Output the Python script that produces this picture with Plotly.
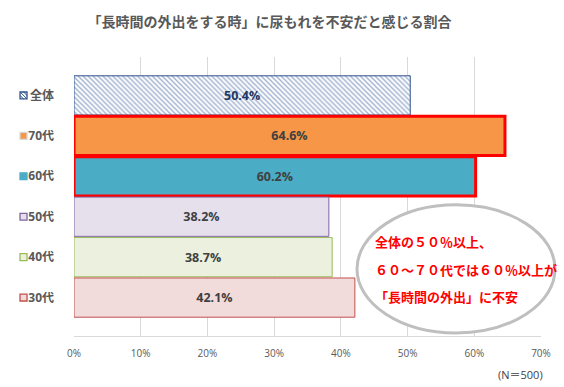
import plotly.graph_objects as go

categories = ["全体", "70代", "60代", "50代", "40代", "30代"]
values = [50.4, 64.6, 60.2, 38.2, 38.7, 42.1]
fill_colors = ["#FFFFFF", "#F79646", "#4BACC6", "#E6E0EC", "#EBF1DE", "#F2DCDB"]
line_colors = ["#2F528F", "#FF0000", "#FF0000", "#8064A2", "#9BBB59", "#C0504D"]
line_widths = [1, 3, 3, 1, 1, 1]
legend_fill = ["#FFFFFF", "#F79646", "#4BACC6", "#E6E0EC", "#EBF1DE", "#F2DCDB"]
legend_line = ["#2F528F", "#D9D9D9", "#4BACC6", "#8064A2", "#9BBB59", "#C0504D"]
x_ticks = [0, 10, 20, 30, 40, 50, 60, 70]
x_ticklabels = [f"{t}%" for t in x_ticks]
title_text = "「長時間の外出をする時」に尿もれを不安だと感じる割合"
callout_lines = ["全体の５０％以上、", "６０～７０代では６０％以上が", "「長時間の外出」に不安"]
note_text = "(N＝500)"

FONT = "Noto Sans CJK JP"
NUMFONT = "Open Sans, Noto Sans CJK JP"

fig = go.Figure()
for i, (c, v) in enumerate(zip(categories, values)):
    marker = dict(color=fill_colors[i], line=dict(color=line_colors[i], width=line_widths[i]))
    if i == 0:
        marker["pattern"] = dict(shape="\\", fgcolor="#2F5597", bgcolor="#FFFFFF", size=3.5, solidity=0.35)
    fig.add_trace(go.Bar(
        y=[c], x=[v], orientation="h", width=0.97,
        marker=marker,
        text=[f"{v:.1f}%"], textposition="inside", insidetextanchor="middle",
        textfont=dict(family=NUMFONT, size=12.5, color="#1F3864" if i == 0 else "#404040", weight="bold"),
        showlegend=False, hoverinfo="skip",
    ))

shapes = []
# legend-like markers next to category labels
for i, c in enumerate(categories):
    shapes.append(dict(type="rect", xref="paper", yref="y",
                       x0=-0.1156, x1=-0.1006, y0=i - 0.085, y1=i + 0.085,
                       fillcolor=legend_fill[i], line=dict(color=legend_line[i], width=1.3), layer="above"))
# hatch inside the 全体 marker
shapes.append(dict(type="path", xref="paper", yref="y",
                   path="M -0.1156,0.0 L -0.1081,0.085 M -0.1156,-0.085 L -0.1006,0.085 M -0.1081,-0.085 L -0.1006,0.0",
                   line=dict(color="#2F528F", width=1), layer="above"))
# callout ellipse
shapes.append(dict(type="circle", xref="paper", yref="paper",
                   x0=0.606, x1=1.030, y0=0.011, y1=0.47,
                   fillcolor="#FFFFFF", line=dict(color="#BFBFBF", width=3), layer="above"))

annotations = []
for txt, yy in zip(callout_lines, [0.337, 0.2366, 0.1398]):
    annotations.append(dict(text=txt, xref="paper", yref="paper", x=0.640, y=yy,
                            xanchor="left", yanchor="middle", showarrow=False,
                            font=dict(family=FONT, size=13, color="#FF0000", weight="bold")))
annotations.append(dict(text=note_text, xref="paper", yref="paper", x=(545 - 74) / 467, y=-(375 - 336) / 279,
                        xanchor="right", yanchor="middle", showarrow=False,
                        font=dict(family=NUMFONT, size=11, color="#404040")))

fig.update_layout(
    width=564, height=387,
    margin=dict(l=74, r=23, t=57, b=51, autoexpand=False),
    paper_bgcolor="#FFFFFF", plot_bgcolor="#FFFFFF",
    title=dict(text=title_text, x=(269.5) / 564, xanchor="center", y=1 - 22 / 387, yanchor="middle",
               font=dict(family=FONT, size=14, color="#595959", weight="bold")),
    barmode="overlay",
    xaxis=dict(range=[0, 70], tickvals=x_ticks, ticktext=x_ticklabels, showgrid=True,
               gridcolor="#D9D9D9", gridwidth=1, zeroline=False, showline=True, linecolor="#D9D9D9",
               ticks="", ticklabelstandoff=8, automargin=False,
               tickfont=dict(family=NUMFONT, size=10, color="#595959")),
    yaxis=dict(categoryorder="array", categoryarray=categories, range=[5.95, -0.95],
               showgrid=False, zeroline=False, showline=False, ticks="",
               ticklabelstandoff=19, automargin=False,
               tickfont=dict(family=NUMFONT, size=12, color="#595959", weight="bold")),
    shapes=shapes, annotations=annotations,
)

fig.write_html("out.html", config={"displayModeBar": False},
               post_script="document.body.style.margin='0';document.body.style.padding='0';")
